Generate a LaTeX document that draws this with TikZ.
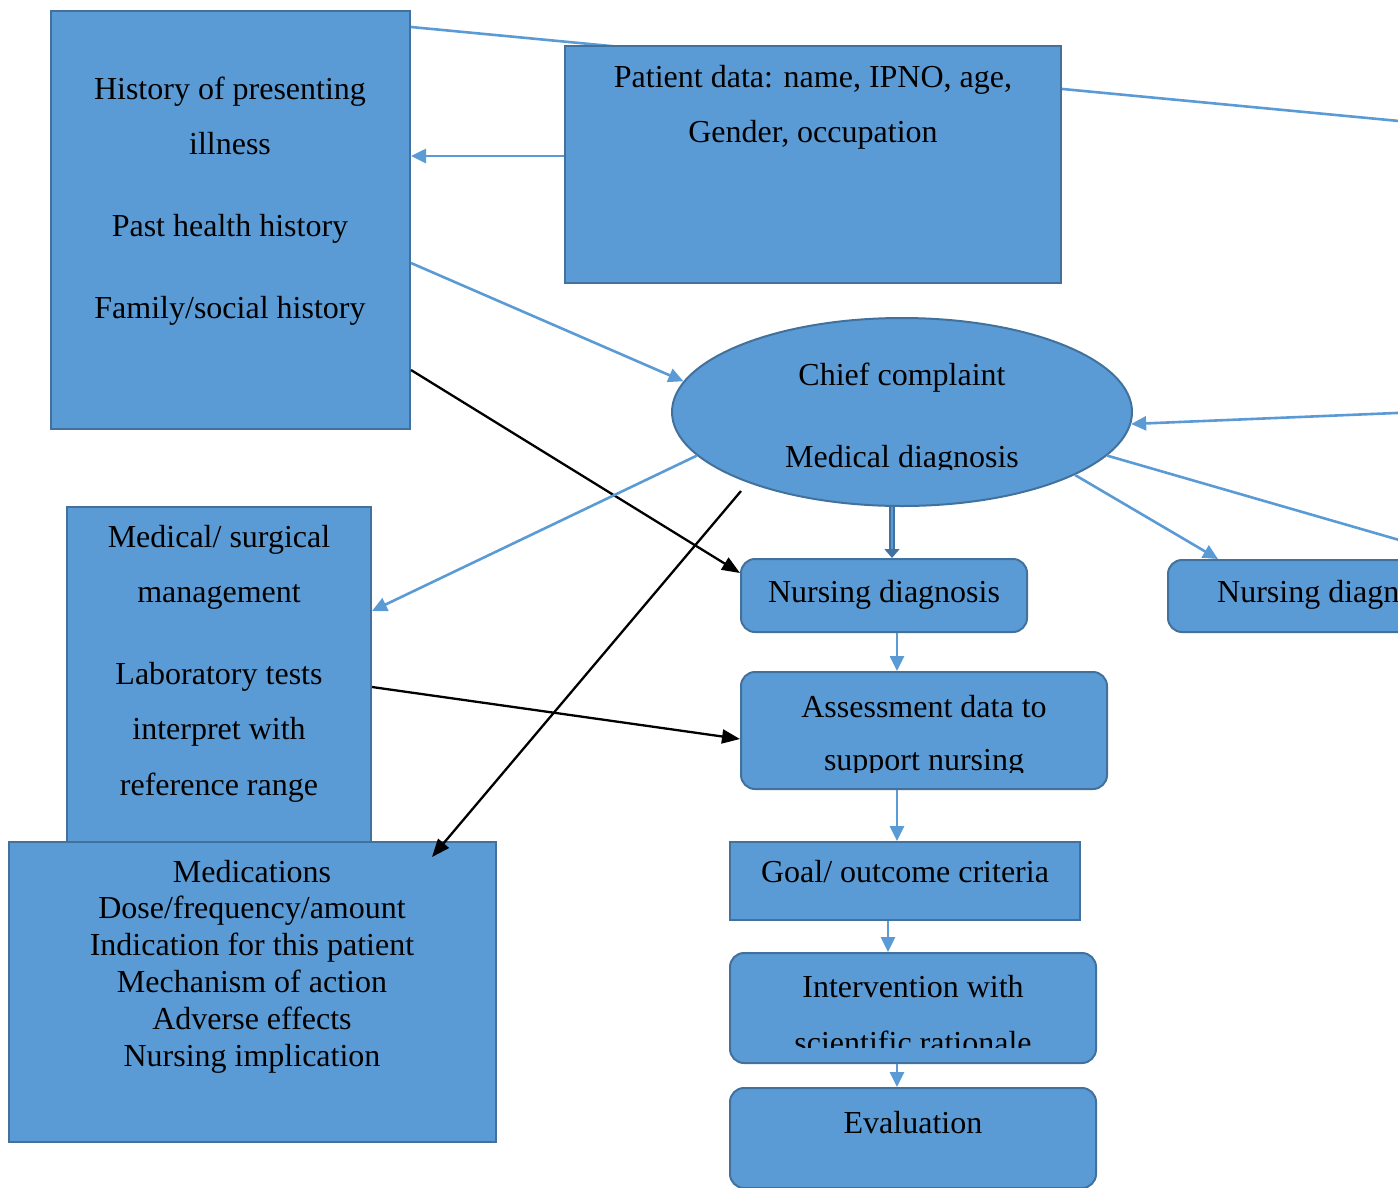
\documentclass[tikz,border=0pt]{standalone}
\usepackage{fontspec}
\setmainfont{Liberation Serif}
\usetikzlibrary{shapes.geometric,arrows.meta,backgrounds}
\definecolor{boxfill}{HTML}{5B9BD5}
\definecolor{boxline}{HTML}{41719C}
\begin{document}
\begin{tikzpicture}[x=1pt,y=-1pt,
  box/.style={draw=boxline, line width=2pt, fill=boxfill, inner sep=0pt},
  rbox/.style={box, rounded corners=14pt},
  txt/.style={anchor=base, inner sep=0pt, font=\fontsize{32}{37}\selectfont},
  bl/.style={draw=boxfill, line width=2.6pt},
  bla/.style={bl, -{Triangle[length=15pt,width=14pt]}},
  blk/.style={draw=black, line width=2.3pt, -{Triangle[length=18pt,width=14pt]}},
  thick arrow/.style={draw=boxline, line width=1.5pt, double=boxfill, double distance=2.5pt, -{Triangle[length=9pt,width=15pt]}}]
\clip (0,0) rectangle (1398,1187);

% boxes
\node[box, minimum width=359pt, minimum height=418pt] (H) at (230.5,220) {};
\node[box, minimum width=496pt, minimum height=237pt] (P) at (813,164.5) {};
\node[ellipse, box, minimum width=460pt, minimum height=188pt] (E) at (902,412) {};
\node[box, minimum width=304pt, minimum height=335pt] (M) at (219,674.5) {};
\node[box, minimum width=487pt, minimum height=300pt] (Med) at (252.5,992) {};
\node[rbox, minimum width=286pt, minimum height=73pt] (ND) at (884,595.5) {};
\node[rbox, minimum width=328pt, minimum height=72pt] (ND2) at (1332,596) {};
\node[rbox, minimum width=366pt, minimum height=117pt] (AD) at (924,730.5) {};
\node[box, minimum width=350pt, minimum height=78pt] (Goal) at (905,881) {};
\node[rbox, minimum width=366pt, minimum height=110pt] (Int) at (913,1008) {};
\node[rbox, minimum width=366pt, minimum height=100pt] (Eval) at (913,1138) {};

% texts
\node[txt] (h1) at (230,99) {History of presenting};
\node[txt] (h2) at (230,154) {illness};
\node[txt] (h3) at (230,236) {Past health history};
\node[txt] (h4) at (230,318) {Family/social history};
\node[txt] (p1) at (813,87) {Patient data: name, IPNO, age,};
\node[txt] (p2) at (813,142) {Gender, occupation};
\node[txt] (e1) at (902,385) {Chief complaint};
\begin{scope}
  \clip (700,420) rectangle (1100,469);
  \node[txt] (e2) at (902,467) {Medical diagnosis};
\end{scope}
\node[txt] (m1) at (219,547) {Medical/ surgical};
\node[txt] (m2) at (219,602) {management};
\node[txt] (m3) at (219,684) {Laboratory tests};
\node[txt] (m4) at (219,739) {interpret with};
\node[txt] (m5) at (219,795) {reference range};
\node[txt] (d1) at (252,882) {Medications};
\node[txt] (d2) at (252,918) {Dose/frequency/amount};
\node[txt] (d3) at (252,955) {Indication for this patient};
\node[txt] (d4) at (252,992) {Mechanism of action};
\node[txt] (d5) at (252,1029) {Adverse effects};
\node[txt] (d6) at (252,1066) {Nursing implication};
\node[txt] (n1) at (884,602) {Nursing diagnosis};
\node[txt, anchor=base west] (n2) at (1217,602) {Nursing diagnosis};
\node[txt] (a1) at (924,717) {Assessment data to};
\begin{scope}
  \clip (745,730) rectangle (1100,772);
  \node[txt] (a2) at (924,770) {support nursing};
\end{scope}
\node[txt] (g1) at (905,882) {Goal/ outcome criteria};
\node[txt] (i1) at (913,997) {Intervention with};
\begin{scope}
  \clip (735,1010) rectangle (1090,1047);
  \node[txt] (i2) at (913,1053) {scientific rationale};
\end{scope}
\node[txt] (v1) at (913,1133) {Evaluation};

% free ends
\coordinate (offR1) at (1420,123);
\coordinate (offR2) at (1420,412);
\coordinate (offR3) at (1420,546);
\coordinate (medstart) at (741,491);
\coordinate (medtip) at (432,857);

\begin{pgfonlayer}{background}
  \draw[bl] (H.north east |- 0,27) -- (offR1);
\end{pgfonlayer}

% connectors
\draw[bla] (P.west |- 0,156) -- (H.east |- 0,156);
\draw[bla] (H.east |- 0,263) -- (E.172.6);
\draw[blk] (H.east |- 0,370) -- (ND.west |- 0,573);
\draw[bla] (E.192) -- (M.east |- 0,611);
\draw[blk] (medstart) -- (medtip);
\draw[blk] (M.east |- 0,687) -- (AD.west |- 0,739);
\draw[bla] (offR2) -- (E.357.5);
\draw[bl] (E.348) -- (offR3);
\draw[bla] (E.340) -- (1218,0 |- ND2.north);
\draw[thick arrow] (892,0 |- E.south) -- (892,0 |- ND.north);
\draw[bla] (897,0 |- ND.south) -- (897,0 |- AD.north);
\draw[bla] (897,0 |- AD.south) -- (897,0 |- Goal.north);
\draw[bla] (888,0 |- Goal.south) -- (888,0 |- Int.north);
\draw[bla] (897,0 |- Int.south) -- (897,0 |- Eval.north);
\end{tikzpicture}
\end{document}
